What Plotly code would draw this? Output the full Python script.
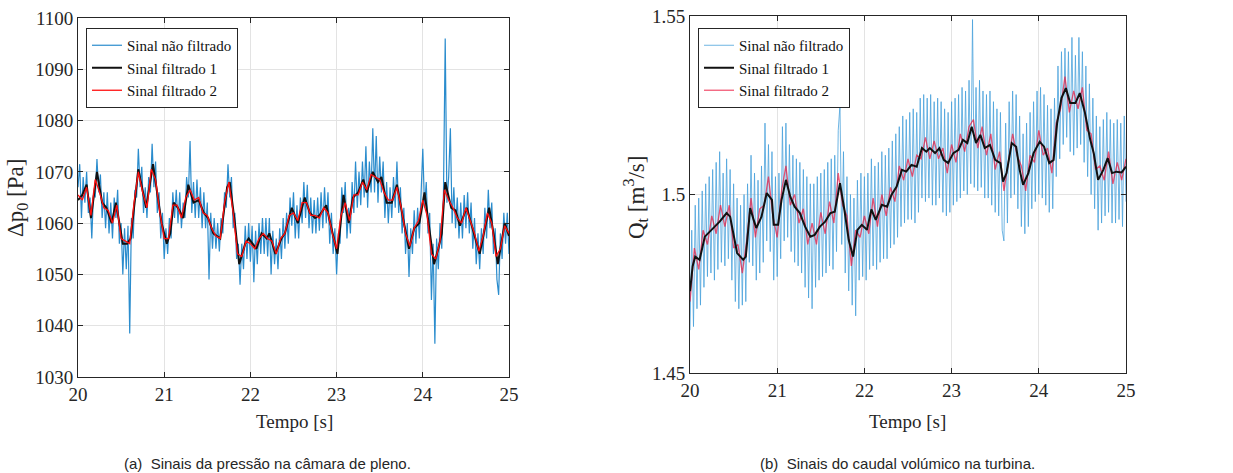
import numpy as np
import plotly.graph_objects as go

# ---------------- (a) pressure in the plenum chamber ----------------
# unfiltered signal, sampled every 0.02 s from 20 s to 25 s
p_raw = [
    1067, 1071.5, 1061, 1069, 1064, 1070, 1062, 1065, 1057, 1066,
    1065, 1072.5, 1066, 1069.5, 1061, 1066, 1059, 1066, 1058, 1064,
    1057, 1065, 1061, 1066.5, 1056, 1060, 1050, 1059, 1051, 1059.5,
    1038.5, 1061, 1057, 1066.5, 1065, 1074.5, 1067, 1071, 1062, 1067,
    1061, 1069, 1066, 1075.5, 1067, 1072, 1062, 1066, 1057, 1062,
    1053, 1059, 1054, 1061, 1057, 1066, 1061, 1066.5, 1060, 1066,
    1059, 1064, 1061, 1069, 1065, 1076, 1062, 1068, 1061, 1068.5,
    1061, 1067, 1059, 1066, 1059, 1064, 1049, 1062, 1055, 1061,
    1055, 1060, 1054.5, 1061, 1058, 1066, 1063, 1071.5, 1065, 1069,
    1059, 1062, 1053, 1056, 1048, 1056, 1051, 1059.5, 1053, 1060,
    1052.5, 1059.5, 1048.5, 1058.5, 1052, 1060, 1054, 1061, 1054, 1061,
    1053.5, 1061, 1050, 1058.5, 1052, 1057, 1051, 1059, 1053, 1061,
    1055, 1062, 1056, 1065, 1059.5, 1066, 1057, 1063.5, 1057, 1065,
    1060, 1068, 1061, 1067.5, 1059, 1065, 1058, 1064.5, 1058, 1065,
    1058.5, 1066, 1059, 1067, 1060, 1066, 1056, 1062, 1054, 1059,
    1050, 1058, 1056, 1067, 1062, 1068, 1057, 1063, 1058, 1068,
    1062, 1072, 1063, 1070, 1063.5, 1072, 1065, 1075, 1063, 1072,
    1066, 1078.5, 1066, 1077, 1064, 1073, 1066, 1072, 1061, 1068,
    1060, 1067, 1061, 1069, 1063, 1072, 1062, 1067, 1058, 1063,
    1054, 1060, 1049.5, 1059, 1054, 1062.5, 1056, 1063, 1057, 1065,
    1074.5, 1063, 1068, 1058, 1062, 1045, 1056, 1036.5, 1057, 1051,
    1060, 1055, 1066, 1096, 1064, 1069, 1078.5, 1060, 1067, 1059,
    1065, 1057, 1064, 1057, 1065.5, 1059, 1066, 1058, 1064, 1055,
    1061, 1052, 1058, 1051, 1059, 1054, 1063, 1057, 1066.5, 1059,
    1064, 1054, 1059, 1049, 1046, 1058, 1053, 1062, 1056, 1062,
    1054,
]

# filtered signal 1 (breakpoints in time)
p_f1_t = [
    20.00, 20.05, 20.10, 20.15, 20.22, 20.28, 20.33, 20.39, 20.44, 20.52,
    20.57, 20.61, 20.70, 20.79, 20.87, 20.94, 20.97, 21.03, 21.07, 21.11,
    21.16, 21.22, 21.28, 21.34, 21.40, 21.46, 21.51, 21.57, 21.65, 21.73,
    21.76, 21.82, 21.87, 21.94, 21.98, 22.07, 22.13, 22.19, 22.22, 22.29,
    22.36, 22.40, 22.48, 22.55, 22.63, 22.69, 22.75, 22.80, 22.88, 22.94,
    23.01, 23.08, 23.14, 23.19, 23.25, 23.31, 23.35, 23.42, 23.48, 23.52,
    23.58, 23.64, 23.70, 23.77, 23.84, 23.90, 23.96, 24.02, 24.07, 24.13,
    24.18, 24.22, 24.26, 24.33, 24.38, 24.43, 24.51, 24.58, 24.66, 24.72,
    24.77, 24.82, 24.87, 24.91, 24.95, 25.00,
]
p_f1 = [
    1064.5, 1065.5, 1067.5, 1061, 1070, 1064, 1063, 1060, 1064, 1056,
    1056, 1057, 1070.5, 1063, 1071.5, 1063, 1060, 1056, 1058, 1064,
    1063, 1061, 1067.5, 1064, 1064.5, 1062, 1061, 1058, 1057, 1067,
    1068, 1060, 1052, 1056, 1057, 1055, 1058, 1057, 1058, 1054,
    1057, 1058, 1063, 1060, 1065, 1062, 1061, 1061.5, 1063.5, 1059,
    1054, 1065.5, 1060, 1065, 1066, 1068.5, 1066, 1070, 1068, 1069,
    1064, 1064, 1067.5, 1061, 1055, 1059, 1060, 1066, 1060, 1052,
    1055, 1058, 1068, 1063, 1062.5, 1059.5, 1063, 1059, 1054, 1059,
    1063, 1058, 1052, 1056, 1060, 1057.5,
]

# filtered signal 2, sampled every 0.05 s
p_f2 = [
    1065.5, 1064.5, 1067, 1061.5, 1068.5, 1066, 1063, 1062.5, 1060, 1063.5,
    1057, 1056.5, 1056, 1064, 1070, 1066, 1063, 1070.5, 1068.5, 1062,
    1057, 1057, 1063.5, 1063.5, 1061, 1065, 1066.5, 1064.5, 1065, 1062,
    1061.5, 1059, 1057.5, 1057, 1064, 1068, 1062, 1054, 1053.5, 1056.5,
    1056, 1055, 1057, 1058, 1057, 1056.5, 1054, 1057, 1058, 1061.5,
    1062, 1060.5, 1064, 1064, 1061.5, 1061.5, 1061, 1063, 1062, 1058,
    1055, 1061.5, 1064, 1060.5, 1065.5, 1065.5, 1068, 1066.5, 1069.5, 1069,
    1068.5, 1066, 1064.5, 1064.5, 1067, 1063, 1058, 1055.5, 1059, 1060.5,
    1064.5, 1061.5, 1054, 1053, 1056.5, 1066.5, 1064.5, 1063, 1061, 1060,
    1063, 1060.5, 1058, 1054.5, 1057.5, 1062, 1060, 1053.5, 1055, 1059.5,
    1058,
]

# ---------------- (b) volumetric flow rate in the turbine ----------------
q_raw = [
    1.462, 1.490, 1.463, 1.497, 1.468, 1.499, 1.469, 1.501, 1.474, 1.503,
    1.477, 1.505, 1.478, 1.507, 1.476, 1.509, 1.479, 1.512, 1.481, 1.506,
    1.480, 1.510, 1.482, 1.507, 1.476, 1.503, 1.470, 1.499, 1.468, 1.497,
    1.469, 1.500, 1.470, 1.503, 1.481, 1.511, 1.480, 1.506, 1.476, 1.504,
    1.478, 1.508, 1.481, 1.520, 1.487, 1.514, 1.484, 1.512, 1.476, 1.505,
    1.477, 1.506, 1.482, 1.519, 1.487, 1.520, 1.488, 1.514, 1.484, 1.511,
    1.481, 1.510, 1.480, 1.509, 1.478, 1.507, 1.474, 1.505, 1.471, 1.503,
    1.468, 1.503, 1.474, 1.505, 1.476, 1.506, 1.477, 1.507, 1.478, 1.509,
    1.480, 1.510, 1.479, 1.511, 1.484, 1.518, 1.525, 1.486, 1.512, 1.478,
    1.505, 1.473, 1.500, 1.469, 1.499, 1.466, 1.504, 1.476, 1.506, 1.477,
    1.505, 1.476, 1.506, 1.479, 1.510, 1.480, 1.508, 1.479, 1.509, 1.481,
    1.512, 1.482, 1.511, 1.482, 1.513, 1.485, 1.515, 1.486, 1.517, 1.488,
    1.519, 1.491, 1.522, 1.492, 1.521, 1.493, 1.523, 1.493, 1.524, 1.492,
    1.523, 1.495, 1.527, 1.499, 1.528, 1.498, 1.527, 1.499, 1.528, 1.497,
    1.526, 1.497, 1.527, 1.499, 1.526, 1.495, 1.524, 1.494, 1.523, 1.495,
    1.526, 1.497, 1.527, 1.498, 1.528, 1.499, 1.530, 1.501, 1.529, 1.500,
    1.532, 1.503, 1.549, 1.502, 1.530, 1.501, 1.532, 1.502, 1.529, 1.499,
    1.528, 1.499, 1.529, 1.497, 1.526, 1.495, 1.524, 1.494, 1.523, 1.490,
    1.487, 1.520, 1.492, 1.526, 1.499, 1.529, 1.500, 1.528, 1.496, 1.522,
    1.491, 1.517, 1.489, 1.520, 1.491, 1.523, 1.496, 1.526, 1.498, 1.529,
    1.500, 1.530, 1.499, 1.528, 1.497, 1.525, 1.495, 1.524, 1.496, 1.527,
    1.505, 1.536, 1.510, 1.540, 1.514, 1.541, 1.516, 1.540, 1.512, 1.544,
    1.511, 1.539, 1.513, 1.544, 1.514, 1.540, 1.509, 1.536, 1.505, 1.531,
    1.500, 1.527, 1.496, 1.522, 1.490, 1.519, 1.492, 1.521, 1.494, 1.523,
    1.495, 1.521, 1.492, 1.520, 1.492, 1.521, 1.493, 1.520, 1.491, 1.522,
    1.498,
]

q_f1_t = [
    20.00, 20.03, 20.06, 20.11, 20.17, 20.23, 20.29, 20.34, 20.42, 20.46,
    20.54, 20.61, 20.64, 20.69, 20.73, 20.76, 20.82, 20.88, 20.94, 20.96,
    21.01, 21.05, 21.10, 21.15, 21.20, 21.26, 21.32, 21.38, 21.43, 21.49,
    21.55, 21.61, 21.66, 21.72, 21.77, 21.82, 21.87, 21.92, 21.97, 22.03,
    22.08, 22.13, 22.20, 22.26, 22.31, 22.37, 22.43, 22.48, 22.54, 22.60,
    22.66, 22.71, 22.75, 22.81, 22.86, 22.91, 22.96, 23.02, 23.08, 23.13,
    23.18, 23.23, 23.28, 23.33, 23.38, 23.44, 23.50, 23.56, 23.59, 23.63,
    23.69, 23.74, 23.78, 23.82, 23.88, 23.94, 24.01, 24.06, 24.12, 24.17,
    24.21, 24.26, 24.31, 24.36, 24.42, 24.47, 24.53, 24.59, 24.63, 24.68,
    24.74, 24.79, 24.84, 24.89, 24.95, 25.00,
]
q_f1 = [
    1.4729, 1.4799, 1.4826, 1.4817, 1.4882, 1.4896, 1.4910, 1.4924, 1.4948, 1.4938,
    1.4836, 1.4817, 1.4826, 1.4962, 1.4929, 1.4906, 1.4938, 1.5004, 1.4985, 1.4915,
    1.4915, 1.4985, 1.5041, 1.4994, 1.4966, 1.4948, 1.4910, 1.4882, 1.4887, 1.4910,
    1.4924, 1.4948, 1.4952, 1.5032, 1.4958, 1.4873, 1.4826, 1.4901, 1.4915, 1.4901,
    1.4958, 1.4929, 1.4971, 1.4966, 1.4999, 1.5022, 1.5069, 1.5064, 1.5083, 1.5078,
    1.5130, 1.5120, 1.5130, 1.5116, 1.5130, 1.5097, 1.5088, 1.5116, 1.5125, 1.5153,
    1.5144, 1.5190, 1.5144, 1.5167, 1.5130, 1.5139, 1.5097, 1.5088, 1.5036, 1.5060,
    1.5144, 1.5134, 1.5069, 1.5027, 1.5060, 1.5116, 1.5148, 1.5134, 1.5088, 1.5097,
    1.5200, 1.5270, 1.5298, 1.5256, 1.5256, 1.5284, 1.5228, 1.5153, 1.5116, 1.5041,
    1.5069, 1.5102, 1.5060, 1.5064, 1.5062, 1.5078,
]

q_f2 = [
    1.470, 1.485, 1.479, 1.490, 1.486, 1.494, 1.489, 1.497, 1.491, 1.497,
    1.485, 1.486, 1.478, 1.487, 1.499, 1.488, 1.496, 1.497, 1.505, 1.494,
    1.488, 1.501, 1.508, 1.497, 1.500, 1.492, 1.496, 1.486, 1.492, 1.486,
    1.495, 1.489, 1.498, 1.492, 1.506, 1.497, 1.494, 1.480, 1.490, 1.488,
    1.494, 1.489, 1.499, 1.491, 1.500, 1.494, 1.502, 1.498, 1.508, 1.504,
    1.510, 1.505, 1.511, 1.510, 1.516, 1.510, 1.515, 1.510, 1.513, 1.506,
    1.514, 1.509, 1.517, 1.512, 1.519, 1.521, 1.513, 1.519, 1.511, 1.517,
    1.507, 1.512, 1.501, 1.509, 1.517, 1.511, 1.508, 1.501, 1.511, 1.509,
    1.518, 1.511, 1.513, 1.506, 1.520, 1.524, 1.533, 1.523, 1.529, 1.524,
    1.530, 1.518, 1.517, 1.507, 1.508, 1.504, 1.512, 1.503, 1.509, 1.504,
    1.510,
]

legend_names = ["Sinal não filtrado", "Sinal filtrado 1", "Sinal filtrado 2"]
serif = "Liberation Serif"
ink = "#262626"
W, H = 1233, 473

fig = go.Figure()


def add_panel(xa, ya, leg, raw, f1_t, f1, f2, raw_color, raw_width,
              red_color, red_width, red_on_top):
    t_raw = np.linspace(20, 25, len(raw))
    t_f2 = np.linspace(20, 25, len(f2))
    raw_tr = go.Scatter(x=t_raw, y=raw, mode="lines", name=legend_names[0],
                        line=dict(color=raw_color, width=raw_width), xaxis=xa, yaxis=ya,
                        legend=leg, legendrank=1)
    f1_tr = go.Scatter(x=f1_t, y=f1, mode="lines", name=legend_names[1],
                       line=dict(color="#111111", width=2), xaxis=xa, yaxis=ya,
                       legend=leg, legendrank=2)
    f2_tr = go.Scatter(x=t_f2, y=f2, mode="lines", name=legend_names[2],
                       line=dict(color=red_color, width=red_width), xaxis=xa, yaxis=ya,
                       legend=leg, legendrank=3)
    order = [raw_tr, f1_tr, f2_tr] if red_on_top else [raw_tr, f2_tr, f1_tr]
    for tr in order:
        fig.add_trace(tr)


add_panel("x", "y", "legend", p_raw, p_f1_t, p_f1, p_f2,
          "#2a8ccd", 1.2, "#ff1010", 1.3, True)
add_panel("x2", "y2", "legend2", q_raw, q_f1_t, q_f1, q_f2,
          "#4aa2dc", 0.8, "rgba(235,20,60,0.7)", 1.3, False)

axis_common = dict(
    showline=True, linecolor=ink, linewidth=1, mirror="ticks",
    ticks="inside", ticklen=5, tickcolor=ink, automargin=False,
    showgrid=True, gridcolor="#e3e3e3", gridwidth=1, zeroline=False,
    tickfont=dict(family=serif, size=19, color=ink),
)

x_ticks = [20, 21, 22, 23, 24, 25]

# plot-area boxes in pixels: (left, right, top, bottom)
box_a = (78, 509, 18, 377)
box_b = (690, 1126, 16, 373)


def xdom(b):
    return [b[0] / W, b[1] / W]


def ydom(b):
    return [1 - b[3] / H, 1 - b[2] / H]


legend_style = dict(xanchor="left", yanchor="top", bgcolor="white",
                    bordercolor=ink, borderwidth=1,
                    font=dict(family=serif, size=15, color="#111111"),
                    tracegroupgap=0, itemwidth=30)

fig.update_layout(
    width=W, height=H,
    margin=dict(l=0, r=0, t=0, b=0),
    paper_bgcolor="white", plot_bgcolor="white",
    xaxis=dict(domain=xdom(box_a), range=[20, 25], tickvals=x_ticks, **axis_common),
    yaxis=dict(domain=ydom(box_a), range=[1030, 1100],
               tickvals=[1030, 1040, 1050, 1060, 1070, 1080, 1090, 1100], **axis_common),
    xaxis2=dict(domain=xdom(box_b), range=[20, 25], tickvals=x_ticks, anchor="y2", **axis_common),
    yaxis2=dict(domain=ydom(box_b), range=[1.45, 1.55], anchor="x2",
                tickvals=[1.45, 1.5, 1.55], ticktext=["1.45", "1.5", "1.55"], **axis_common),
    legend=dict(x=86 / W, y=1 - 28 / H, **legend_style),
    legend2=dict(x=698 / W, y=1 - 28 / H, **legend_style),
    showlegend=True,
)


def label(text, x, y, size, angle=0, family=serif):
    fig.add_annotation(text=text, xref="paper", yref="paper", x=x / W, y=1 - y / H,
                       xanchor="center", yanchor="middle", showarrow=False,
                       textangle=angle, font=dict(family=family, size=size, color=ink))


# axis titles
label("Tempo [s]", 294, 421, 19)
label("Tempo [s]", 907, 421, 19)
label("Δp<sub>0</sub> [Pa]", 17, 198, 23, angle=-90)
label("Q<sub>t</sub> [m<sup>3</sup>/s]", 635, 198, 23, angle=-90)

# sub-figure captions
sans = "Liberation Sans"
label("(a)  Sinais da pressão na câmara de pleno.", 267, 463, 15, family=sans)
label("(b)  Sinais do caudal volúmico na turbina.", 897, 463, 15, family=sans)

fig.write_html("out.html")
